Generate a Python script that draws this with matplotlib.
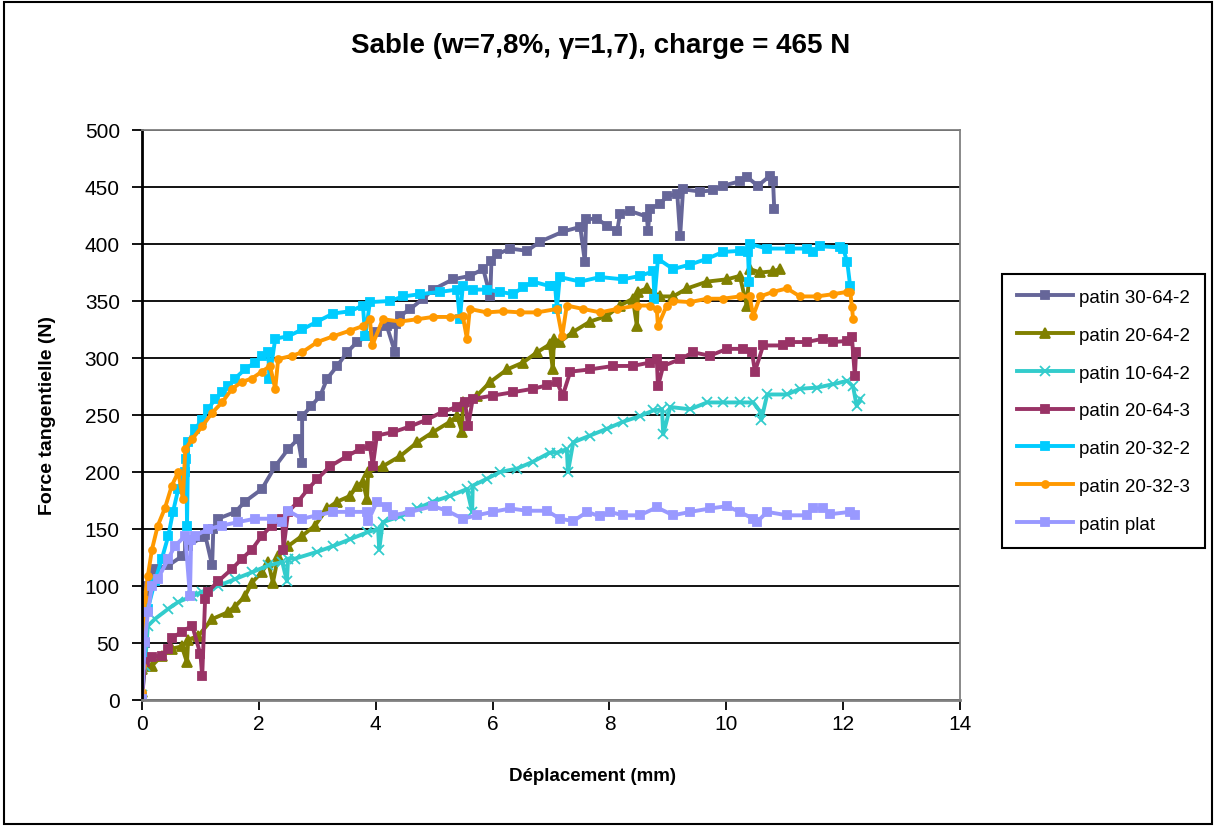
import matplotlib
matplotlib.use('Agg')
import matplotlib.pyplot as plt
from matplotlib.patches import Rectangle

plt.rcParams['font.family'] = ['Liberation Sans', 'DejaVu Sans']

# patin 30-64-2
x_30642 = [0.0, 0.05, 0.1, 0.22, 0.45, 0.68, 0.79, 1.03, 1.08, 1.2, 1.22, 1.3, 1.6, 1.76,
           2.05, 2.28, 2.5, 2.67, 2.74, 2.74, 2.9, 3.05, 3.17, 3.34, 3.51, 3.68, 3.85,
           4.02, 4.19, 4.33, 4.35, 4.42, 4.59, 4.81, 4.98, 5.32, 5.61, 5.84, 5.96, 5.98,
           6.08, 6.3, 6.59, 6.81, 7.21, 7.5, 7.58, 7.6, 7.79, 7.96, 8.13, 8.18, 8.35,
           8.64, 8.66, 8.69, 8.87, 8.98, 9.16, 9.21, 9.26, 9.55, 9.77, 9.94, 10.23, 10.35,
           10.54, 10.75, 10.8, 10.82]
y_30642 = [3, 50, 100, 115, 118, 126, 135, 143, 145, 118, 150, 159, 165, 174,
           185, 205, 220, 229, 208, 249, 258, 267, 282, 293, 305, 314, 319,
           323, 328, 305, 330, 337, 343, 352, 360, 369, 372, 378, 354, 385,
           391, 396, 394, 402, 411, 415, 384, 422, 422, 416, 411, 426, 429,
           424, 411, 431, 435, 442, 444, 407, 448, 446, 447, 451, 455, 459,
           451, 460, 455, 431]

# patin 20-64-2
x_20642 = [0.0, 0.0, 0.17, 0.34, 0.51, 0.68, 0.77, 0.79, 0.96, 1.2, 1.47, 1.59, 1.76,
           1.88, 2.05, 2.16, 2.24, 2.33, 2.5, 2.74, 2.96, 3.17, 3.34, 3.56, 3.68, 3.78,
           3.85, 3.87, 4.12, 4.42, 4.71, 4.98, 5.27, 5.39, 5.48, 5.49, 5.73, 5.96, 6.25,
           6.52, 6.76, 6.98, 7.03, 7.05, 7.15, 7.38, 7.67, 7.96, 8.18, 8.4, 8.47, 8.49,
           8.64, 8.87, 9.09, 9.33, 9.67, 10.01, 10.23, 10.35, 10.4, 10.58, 10.8, 10.92]
y_20642 = [7, 27, 30, 39, 45, 47, 33, 53, 56, 71, 77, 82, 91,
           103, 112, 121, 103, 126, 135, 144, 153, 168, 174, 179, 188, 191,
           176, 200, 205, 214, 226, 235, 244, 249, 235, 261, 267, 279, 290,
           296, 305, 312, 290, 317, 314, 323, 332, 337, 346, 352, 328, 358,
           361, 354, 354, 361, 367, 369, 372, 346, 378, 375, 376, 378]

# patin 10-64-2
x_10642 = [0.0, 0.05, 0.1, 0.22, 0.45, 0.62, 0.86, 1.03, 1.3, 1.59, 1.88, 2.16, 2.4,
           2.48, 2.5, 2.62, 3.0, 3.27, 3.56, 3.85, 4.04, 4.06, 4.12, 4.42, 4.71, 4.98,
           5.27, 5.56, 5.65, 5.66, 5.9, 6.13, 6.42, 6.69, 6.98, 7.1, 7.27, 7.29, 7.38,
           7.67, 7.96, 8.23, 8.52, 8.75, 8.9, 8.92, 9.04, 9.38, 9.67, 9.94, 10.23, 10.46,
           10.58, 10.6, 10.7, 11.04, 11.26, 11.55, 11.83, 12.07, 12.17, 12.23, 12.29]
y_10642 = [4, 30, 65, 71, 80, 86, 91, 95, 100, 106, 112, 118, 121,
           104, 124, 124, 130, 135, 141, 147, 150, 132, 156, 161, 168, 174,
           179, 185, 165, 188, 194, 200, 203, 209, 217, 217, 220, 200, 226,
           232, 238, 244, 249, 254, 255, 233, 257, 255, 261, 261, 261, 261,
           253, 246, 268, 268, 273, 274, 277, 280, 275, 258, 264]

# patin 20-64-3
x_20643 = [0.0, 0.05, 0.17, 0.34, 0.45, 0.51, 0.68, 0.86, 1.0, 1.03, 1.08, 1.13, 1.3,
           1.54, 1.71, 1.88, 2.05, 2.22, 2.4, 2.42, 2.5, 2.67, 2.84, 3.0, 3.22, 3.51,
           3.73, 3.9, 3.95, 4.02, 4.3, 4.59, 4.88, 5.15, 5.39, 5.53, 5.58, 5.66, 6.0,
           6.35, 6.69, 6.93, 7.1, 7.2, 7.33, 7.67, 8.06, 8.4, 8.69, 8.81, 8.83, 8.92,
           9.21, 9.43, 9.72, 10.01, 10.29, 10.44, 10.49, 10.63, 10.97, 11.09, 11.38, 11.66,
           11.83, 12.07, 12.15, 12.2, 12.22]
y_20643 = [0, 33, 38, 39, 45, 54, 60, 65, 40, 21, 89, 95, 104,
           115, 124, 132, 144, 153, 159, 132, 165, 174, 185, 194, 205, 214,
           220, 223, 205, 232, 235, 240, 246, 253, 257, 261, 240, 264, 267,
           270, 273, 276, 279, 267, 288, 290, 293, 293, 296, 299, 275, 293,
           299, 305, 302, 308, 308, 305, 288, 311, 311, 314, 314, 317,
           314, 315, 318, 284, 305]

# patin 20-32-2
x_20322 = [0.0, 0.0, 0.1, 0.22, 0.34, 0.45, 0.53, 0.62, 0.74, 0.76, 0.77, 0.79, 0.91,
           1.03, 1.13, 1.25, 1.37, 1.47, 1.59, 1.76, 1.93, 2.05, 2.16, 2.18, 2.28, 2.5,
           2.74, 3.0, 3.27, 3.56, 3.78, 3.82, 3.9, 4.24, 4.47, 4.76, 5.1, 5.39, 5.44,
           5.49, 5.66, 5.9, 6.13, 6.35, 6.52, 6.69, 6.98, 7.07, 7.1, 7.15, 7.5, 7.84,
           8.23, 8.52, 8.75, 8.77, 8.83, 9.09, 9.38, 9.67, 9.94, 10.23, 10.37, 10.39,
           10.4, 10.7, 11.09, 11.38, 11.48, 11.6, 11.95, 12.0, 12.07, 12.12]
y_20322 = [1, 42, 80, 104, 124, 144, 165, 185, 200, 211, 153, 226, 238,
           246, 255, 264, 270, 275, 282, 290, 296, 302, 305, 282, 317, 319,
           325, 332, 339, 341, 346, 319, 349, 350, 354, 356, 358, 360, 334,
           363, 360, 360, 358, 356, 362, 367, 363, 363, 343, 371, 367, 371,
           369, 372, 376, 352, 387, 378, 382, 387, 393, 394, 393, 367,
           400, 396, 396, 396, 393, 398, 397, 396, 384, 363]

# patin 20-32-3
x_20323 = [0.0, 0.0, 0.05, 0.1, 0.17, 0.27, 0.39, 0.51, 0.62, 0.7, 0.74, 0.86, 1.03,
           1.2, 1.37, 1.54, 1.71, 1.88, 2.05, 2.19, 2.28, 2.33, 2.57, 2.74, 3.0, 3.27,
           3.56, 3.78, 3.9, 3.94, 4.12, 4.42, 4.71, 4.98, 5.27, 5.49, 5.56, 5.61, 5.9,
           6.18, 6.47, 6.76, 7.1, 7.19, 7.27, 7.55, 7.84, 8.13, 8.47, 8.69, 8.81, 8.83,
           8.98, 9.09, 9.38, 9.67, 9.94, 10.23, 10.4, 10.46, 10.58, 10.8, 11.04, 11.26,
           11.55, 11.83, 12.07, 12.12, 12.15, 12.17]
y_20323 = [7, 30, 89, 109, 132, 153, 168, 188, 200, 176, 220, 229, 240,
           252, 261, 273, 279, 282, 288, 293, 273, 299, 302, 305, 314, 319,
           324, 328, 334, 311, 334, 332, 334, 336, 336, 337, 317, 343, 340,
           341, 340, 340, 343, 319, 346, 343, 340, 343, 346, 346, 343, 328,
           346, 350, 349, 352, 352, 354, 354, 337, 354, 358, 361, 354,
           354, 356, 358, 358, 345, 334]

# patin plat
x_plat = [0.0, 0.05, 0.1, 0.17, 0.27, 0.45, 0.56, 0.74, 0.82, 0.84, 0.91, 1.13, 1.37,
          1.64, 1.93, 2.22, 2.4, 2.5, 2.74, 3.0, 3.27, 3.56, 3.85, 3.87, 4.02, 4.19,
          4.3, 4.59, 4.98, 5.22, 5.49, 5.73, 6.0, 6.3, 6.59, 6.93, 7.15, 7.38, 7.62,
          7.84, 8.01, 8.23, 8.52, 8.81, 9.09, 9.38, 9.72, 10.01, 10.23, 10.46, 10.52,
          10.7, 11.04, 11.38, 11.48, 11.66, 11.78, 12.12, 12.2]
y_plat = [1, 51, 77, 100, 106, 124, 135, 144, 91, 140, 144, 150, 153,
          156, 159, 159, 156, 166, 159, 162, 165, 165, 165, 157, 174, 169,
          162, 165, 170, 166, 159, 162, 165, 168, 166, 166, 159, 157, 165,
          161, 165, 162, 162, 169, 162, 165, 168, 170, 165, 159, 156,
          165, 162, 162, 168, 168, 163, 165, 162]

series = [
    ('patin 30-64-2', x_30642, y_30642, '#666699', 's', 6),
    ('patin 20-64-2', x_20642, y_20642, '#808000', '^', 7),
    ('patin 10-64-2', x_10642, y_10642, '#33CCCC', 'x', 7),
    ('patin 20-64-3', x_20643, y_20643, '#993366', 's', 6),
    ('patin 20-32-2', x_20322, y_20322, '#00CCFF', 's', 6),
    ('patin 20-32-3', x_20323, y_20323, '#FF9900', 'o', 5),
    ('patin plat', x_plat, y_plat, '#9999FF', 's', 6),
]

fig = plt.figure(figsize=(12.16, 8.28), dpi=100)
ax = fig.add_axes([0.1168, 0.1534, 0.6727, 0.6884])

for name, xs, ys, col, mk, ms in series:
    ax.plot(xs, ys, color=col, lw=2.8, marker=mk, markersize=ms,
            markeredgecolor=col, markerfacecolor=col, markeredgewidth=1.3,
            label=name)

ax.set_xlim(0, 14)
ax.set_ylim(0, 500)
ax.set_xticks(range(0, 15, 2))
ax.set_yticks(range(0, 501, 50))
ax.yaxis.grid(True, color='black', lw=1.3)
ax.set_axisbelow(True)
ax.tick_params(labelsize=15, direction='out', length=7, width=1.3, color='black')
ax.tick_params(axis='y', pad=9)
ax.tick_params(axis='x', pad=3)
for s in ['top', 'right']:
    ax.spines[s].set_color('#808080')
    ax.spines[s].set_linewidth(1.3)
ax.spines['left'].set_linewidth(2)
ax.spines['bottom'].set_color('#808080')
ax.spines['bottom'].set_linewidth(2)

ax.set_xlabel('Déplacement (mm)', fontsize=13.5, fontweight='bold')
ax.xaxis.set_label_coords(0.551, -0.117)
ax.set_ylabel('Force tangentielle (N)', fontsize=14, fontweight='bold')
ax.yaxis.set_label_coords(-0.105, 0.5)

fig.text(0.494, 0.944, 'Sable (w=7,8%, γ=1,7), charge = 465 N',
         ha='center', va='center', fontsize=20, fontweight='bold')

leg = ax.legend(loc='upper left', bbox_to_anchor=(0.824, 0.668),
                bbox_transform=fig.transFigure, borderaxespad=0,
                fontsize=13.5, numpoints=1, handlelength=3.0, labelspacing=1.1,
                fancybox=False, framealpha=1, borderpad=0.8, handletextpad=0.3)
leg.get_frame().set_edgecolor('black')
leg.get_frame().set_linewidth(1.5)

fig.patches.append(Rectangle((0.003, 0.004), 0.994, 0.992, transform=fig.transFigure,
                             fill=False, edgecolor='black', lw=1.5))

fig.savefig('out.png', dpi=100)
